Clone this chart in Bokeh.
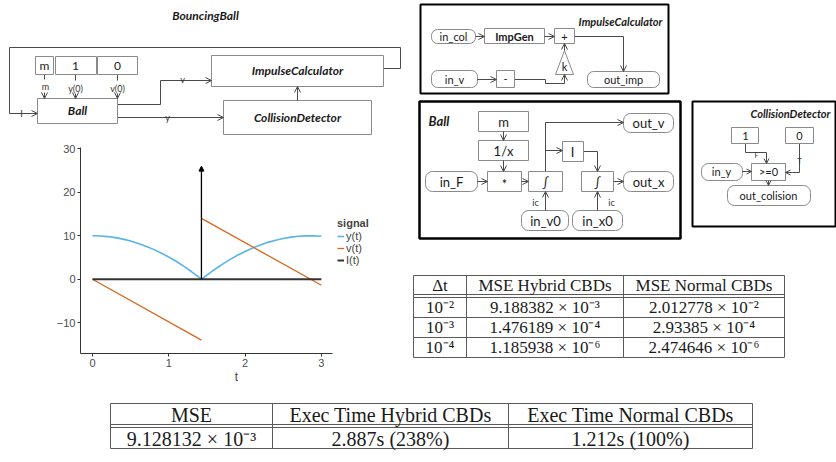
import math
from jinja2 import Template
from bokeh.plotting import figure
from bokeh.models import (Range1d, ColumnDataSource, Arrow, OpenHead, NormalHead,
                          Legend, LegendItem)
from bokeh.core.properties import value
from bokeh.embed import file_html
from bokeh.resources import INLINE

NAN = float("nan")

# ---------------- chart data ----------------
t_y = [0.0, 0.1, 0.2, 0.3, 0.4, 0.5, 0.6, 0.7, 0.8, 0.9, 1.0, 1.1, 1.2, 1.3, 1.428,
       1.5, 1.6, 1.7, 1.8, 1.9, 2.0, 2.1, 2.2, 2.3, 2.4, 2.5, 2.6, 2.7, 2.8, 2.9, 3.0]
y_sig = [10.0, 9.95, 9.80, 9.56, 9.22, 8.77, 8.23, 7.60, 6.86, 6.03, 5.10, 4.07, 2.94, 1.71, 0.0,
         0.96, 2.24, 3.42, 4.51, 5.50, 6.39, 7.18, 7.87, 8.47, 8.97, 9.36, 9.67, 9.87, 9.97, 9.98, 9.89]
t_v = [0.0, 1.428, 1.428, 1.428, 3.0]
v_sig = [0.0, -14.0, NAN, 14.0, -1.4]
t_I = [0.0, 3.0]
I_sig = [0.0, 0.0]
t_impulse = [1.428]
I_impulse = [26.0]
x_ticks = [0, 1, 2, 3]
y_ticks = [-10, 0, 10, 20, 30]
series_labels = ["y(t)", "v(t)", "I(t)"]
legend_title = "signal"

# ---------------- table data ----------------
t1_header = ["Δt", "MSE Hybrid CBDs", "MSE Normal CBDs"]
dt_labels = ["10⁻²", "10⁻³", "10⁻⁴"]
mse_hybrid = ["9.188382 × 10⁻³", "1.476189 × 10⁻⁴", "1.185938 × 10⁻⁶"]
mse_normal = ["2.012778 × 10⁻²", "2.93385 × 10⁻⁴", "2.474646 × 10⁻⁶"]
t2_header = ["MSE", "Exec Time Hybrid CBDs", "Exec Time Normal CBDs"]
t2_row = ["9.128132 × 10⁻³", "2.887s (238%)", "1.212s (100%)"]

LINE = "#4a4a4a"
BOX = "#8a8a8a"
TXT = "#1a1a1a"
SANS = "Lato"
SERIF = "Liberation Serif"


def canvas(w, h, x0, x1, y0, y1):
    p = figure(width=w, height=h, x_range=Range1d(x0, x1), y_range=Range1d(y1, y0),
               output_backend="svg", toolbar_location=None, x_axis_type=None, y_axis_type=None,
               min_border=0, outline_line_color=None, background_fill_color="white",
               border_fill_color="white")
    p.grid.visible = False
    return p


def boxes(p, bl, color=BOX, lw=1.0, radius=0, fill="white"):
    p.quad(left=[b[0] for b in bl], right=[b[2] for b in bl],
           top=[b[1] for b in bl], bottom=[b[3] for b in bl],
           fill_color=fill, line_color=color, line_width=lw, border_radius=radius)


def texts(p, items, size, style="normal", font=SANS, align="center", color=TXT):
    p.text(x=[i[1] for i in items], y=[i[2] for i in items], text=[i[0] for i in items],
           text_align=align, text_baseline="middle", text_font=value(font),
           text_font_size=size, text_font_style=style, text_color=color)


def polylines(p, lines, color=LINE, lw=1.0):
    p.multi_line(xs=[[pt[0] for pt in l] for l in lines], ys=[[pt[1] for pt in l] for l in lines],
                 line_color=color, line_width=lw)


def arrows(p, segs, color=LINE, size=6):
    src = ColumnDataSource(dict(x0=[s[0] for s in segs], y0=[s[1] for s in segs],
                                x1=[s[2] for s in segs], y1=[s[3] for s in segs]))
    p.add_layout(Arrow(end=OpenHead(size=size, line_color=color, line_width=1),
                       source=src, x_start="x0", y_start="y0", x_end="x1", y_end="y1",
                       line_color=color, line_width=1))


# ---------------- BouncingBall diagram ----------------
bb = canvas(412, 140, 0, 412, 0, 140)
texts(bb, [("BouncingBall", 205, 15)], "12px", "bold italic")
polylines(bb, [[(383, 68), (400, 68), (400, 47), (9, 47), (9, 113), (30, 113)],
               [(44, 74), (44, 79)], [(75, 74), (75, 80)], [(117, 74), (117, 80)],
               [(117, 104), (160, 104), (160, 80), (202, 80)],
               [(117, 117), (215, 117)]])
boxes(bb, [(35, 56, 53, 74), (55, 56, 96, 74), (97, 56, 137, 74),
           (37, 98, 117, 123), (211, 55, 383, 86), (223, 100, 371, 134)])
texts(bb, [("m", 44, 65), ("1", 75, 65), ("0", 117, 65)], "12px")
texts(bb, [("Ball", 77, 110)], "12px", "bold italic")
texts(bb, [("ImpulseCalculator", 297, 70), ("CollisionDetector", 297, 117)], "12px", "bold italic")
texts(bb, [("m", 45, 86), ("y(0)", 75, 88), ("v(0)", 117, 88), ("v", 182, 79), ("y", 167, 117),
           ("I", 21, 113)], "9px", color="#333333")
arrows(bb, [(28, 113, 37, 113), (44, 92, 44, 98), (75, 93, 75, 98), (117, 93, 117, 98),
            (200, 80, 211, 80), (212, 117, 223, 117), (297, 100, 297, 86)])

# ---------------- right diagrams ----------------
rd = canvas(424, 262, 412, 836, 0, 262)
# ImpulseCalculator
boxes(rd, [(420, 4, 668, 93)], color="black", lw=2)
texts(rd, [("ImpulseCalculator", 662, 21)], "11px", "bold italic", align="right")
polylines(rd, [[(574, 36), (623, 36), (623, 65)],
               [(514, 79), (545, 79), (545, 83), (564, 83), (564, 78)]])
boxes(rd, [(431, 29, 475, 43), (587, 71, 659, 87), (431, 70, 477, 87)], radius=6)
boxes(rd, [(484, 28, 544, 43), (554, 28, 574, 43), (496, 70, 514, 87)])
rd.patch([555, 573, 564], [74, 74, 50], fill_color="white", line_color=BOX, line_width=1)
texts(rd, [("in_col", 453, 36), ("+", 564, 36), ("out_imp", 623, 79), ("in_v", 454, 79),
           ("-", 505, 78), ("k", 564, 66)], "11px")
texts(rd, [("ImpGen", 514, 36)], "11px", "bold")
arrows(rd, [(475, 36, 484, 36), (544, 36, 554, 36), (623, 62, 623, 71), (564, 80, 564, 74),
            (564, 50, 564, 43), (477, 79, 496, 79)])
# Ball
boxes(rd, [(419, 101, 680, 238)], color="black", lw=2.5)
texts(rd, [("Ball", 428, 120)], "13px", "bold italic", align="left")
polylines(rd, [[(545, 171), (545, 122), (615, 122)], [(545, 150), (555, 150)],
               [(583, 151), (597, 151), (597, 165)]])
boxes(rd, [(478, 111, 528, 131), (478, 140, 528, 160), (487, 171, 521, 191),
           (528, 171, 562, 191), (562, 141, 583, 161), (581, 171, 613, 191)])
boxes(rd, [(425, 171, 477, 191), (623, 113, 673, 132), (623, 171, 673, 191),
           (521, 210, 568, 230), (572, 210, 622, 230)], radius=7)
texts(rd, [("m", 503, 121), ("1/x", 503, 150), ("*", 504, 183), ("∫", 545, 181), ("I", 572, 151),
           ("∫", 597, 181), ("in_F", 451, 181), ("out_v", 648, 122), ("out_x", 648, 181),
           ("in_v0", 545, 220), ("in_x0", 597, 220)], "13px")
texts(rd, [("ic", 535, 202), ("ic", 611, 202)], "9px", color="#333333")
arrows(rd, [(503, 131, 503, 140), (503, 160, 503, 171), (477, 181, 487, 181), (521, 181, 528, 181),
            (612, 122, 623, 122), (552, 150, 562, 150), (597, 162, 597, 171), (613, 181, 623, 181),
            (545, 210, 545, 191), (597, 210, 597, 191)])
# CollisionDetector
boxes(rd, [(692, 101, 835, 226)], color="black", lw=2)
texts(rd, [("CollisionDetector", 830, 113)], "11px", "bold italic", align="right")
polylines(rd, [[(745, 143), (745, 152), (766, 152), (766, 158)],
               [(799, 143), (799, 172), (792, 172)]])
boxes(rd, [(731, 127, 758, 143), (785, 127, 813, 143), (751, 163, 785, 180)])
boxes(rd, [(701, 163, 742, 180), (727, 185, 810, 205)], radius=7)
texts(rd, [("1", 745, 135), ("0", 799, 135), (">=0", 768, 171), ("in_y", 721, 171),
           ("out_colision", 768, 195)], "11px")
texts(rd, [("F", 756, 154), ("T", 799, 160)], "7px", color="#333333")
arrows(rd, [(766, 157, 766, 163), (792, 172, 785, 172), (742, 171, 751, 171), (768, 180, 768, 185)],
       size=5)

# ---------------- chart ----------------
x_lo, x_hi = -0.157, 3.145
ch = figure(width=412, height=250, x_range=Range1d(x_lo, 3.932), y_range=Range1d(-17.08, 30.28),
            output_backend="svg", toolbar_location=None, min_border_left=80, min_border_right=20,
            min_border_top=7, min_border_bottom=37, outline_line_color=None,
            border_fill_color="white")
ch.grid.visible = False
r_y = ch.line(t_y, y_sig, line_color="#56B4E9", line_width=1.6)
r_v = ch.line(t_v, v_sig, line_color="#D9661F", line_width=1.3)
r_I = ch.line(t_I, I_sig, line_color="#333333", line_width=2)
ch.add_layout(Arrow(end=NormalHead(size=5, fill_color="black", line_color="black"),
                    source=ColumnDataSource(dict(x0=t_impulse, y0=[I_sig[0]], x1=t_impulse, y1=I_impulse)),
                    x_start="x0", y_start="y0", x_end="x1", y_end="y1",
                    line_color="black", line_width=1.3))
for ax in (ch.xaxis[0], ch.yaxis[0]):
    ax.axis_line_color = "#333333"
    ax.major_tick_line_color = "#333333"
    ax.major_tick_out = 3
    ax.major_tick_in = 0
    ax.minor_tick_out = 0
    ax.minor_tick_in = 0
    ax.major_label_text_font = "Liberation Sans"
    ax.major_label_text_font_size = "11px"
    ax.major_label_text_color = "#4d4d4d"
    ax.major_label_standoff = 2
ch.xaxis.bounds = (x_lo, x_hi)
ch.xaxis.ticker = x_ticks
ch.yaxis.ticker = y_ticks
ch.yaxis.major_label_overrides = {-10: "−10"}
ch.xaxis.axis_label = "t"
ch.xaxis.axis_label_text_font = "Liberation Sans"
ch.xaxis.axis_label_text_font_style = "normal"
ch.xaxis.axis_label_text_font_size = "12px"
ch.xaxis.axis_label_standoff = 0
legend = Legend(items=[LegendItem(label=series_labels[0], renderers=[r_y]),
                       LegendItem(label=series_labels[1], renderers=[r_v]),
                       LegendItem(label=series_labels[2], renderers=[r_I])],
                title=legend_title, location=(257, 87), margin=0, padding=0, spacing=0,
                label_height=10, glyph_height=10, glyph_width=7, label_standoff=2,
                label_text_font="Liberation Sans", label_text_font_size="11px",
                title_text_font="Liberation Sans", title_text_font_size="11px",
                title_text_font_style="bold", title_standoff=1,
                border_line_color=None, background_fill_alpha=0)
ch.add_layout(legend)

# ---------------- table 1 ----------------
t1 = canvas(424, 128, 412, 836, 262, 390)
c1 = [413, 466, 623, 784]
r1 = [275, 294, 297, 317, 337, 357]
polylines(t1, [[(c1[0], y), (c1[-1], y)] for y in r1] + [[(x, r1[0]), (x, r1[-1])] for x in c1],
          color="#5a5a5a")
cx1 = [(c1[i] + c1[i + 1]) / 2 for i in range(3)]
texts(t1, [(t1_header[i], cx1[i], 285) for i in range(3)], "17px", font=SERIF)
rows1 = [307, 327, 347]
items = []
for j in range(3):
    items += [(dt_labels[j], cx1[0], rows1[j]), (mse_hybrid[j], cx1[1], rows1[j]),
              (mse_normal[j], cx1[2], rows1[j])]
texts(t1, items, "17px", font=SERIF)

# ---------------- table 2 ----------------
t2 = canvas(836, 72, 0, 836, 390, 462)
c2 = [110, 272, 508, 752]
r2 = [403, 424, 427, 448]
polylines(t2, [[(c2[0], y), (c2[-1], y)] for y in r2] + [[(x, r2[0]), (x, r2[-1])] for x in c2],
          color="#5a5a5a")
cx2 = [(c2[i] + c2[i + 1]) / 2 for i in range(3)]
texts(t2, [(t2_header[i], cx2[i], 414) for i in range(3)] +
      [(t2_row[i], cx2[i], 438) for i in range(3)], "20px", font=SERIF)

# ---------------- page: each panel placed at its own position ----------------
panels = [bb, rd, ch, t1, t2]
spots = [(0, 0), (412, 0), (0, 140), (412, 262), (0, 390)]
divs = "\n".join(
    '<div style="position:absolute;left:%dpx;top:%dpx;">{{ embed(docs[0].roots[%d]) }}</div>' % (x, y, i)
    for i, (x, y) in enumerate(spots))
TEMPLATE = Template("""{% from macros import embed %}
<!DOCTYPE html>
<html lang="en">
<head>
<meta charset="utf-8">
<title>BouncingBall</title>
<style>html, body { margin: 0; padding: 0; overflow: hidden; background: white; }</style>
{{ bokeh_css if bokeh_css }}
{{ bokeh_js if bokeh_js }}
</head>
<body>
""" + divs + """
{{ plot_script | indent(4) }}
</body>
</html>
""")

open("out.html", "w").write(file_html(panels, INLINE, title="BouncingBall", template=TEMPLATE))
